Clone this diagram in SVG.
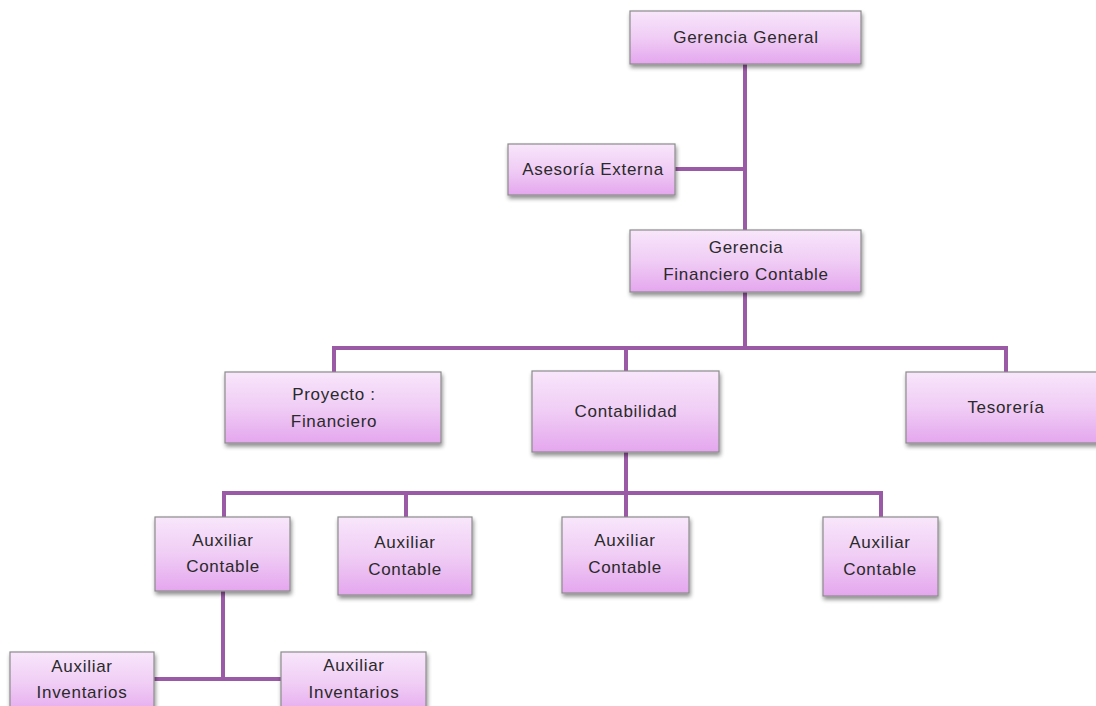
<svg xmlns="http://www.w3.org/2000/svg" width="1096" height="706" viewBox="0 0 1096 706">
  <defs>
    <linearGradient id="fill" x1="0" y1="0" x2="0" y2="1">
      <stop offset="0" stop-color="#f8e6fb"/>
      <stop offset="0.5" stop-color="#f0cdf5"/>
      <stop offset="1" stop-color="#e4a6ee"/>
    </linearGradient>
    <filter id="sh" x="-10%" y="-10%" width="125%" height="140%">
      <feGaussianBlur in="SourceAlpha" stdDeviation="2"/>
      <feOffset dx="1" dy="3" result="b"/>
      <feComponentTransfer><feFuncA type="linear" slope="0.45"/></feComponentTransfer>
      <feMerge><feMergeNode/><feMergeNode in="SourceGraphic"/></feMerge>
    </filter>
  </defs>
  <style>
    .box { fill: url(#fill); stroke: #8c8c8c; stroke-width: 1.2; filter: url(#sh); }
    .t { font-family: "Liberation Sans", Arial, sans-serif; font-size: 17px; letter-spacing: 0.7px; fill: #2a2a2a; text-anchor: middle; dominant-baseline: central; }
    .c { fill: none; stroke: #9b5aa6; stroke-width: 4; stroke-linejoin: miter; stroke-linecap: square; }
  </style>
  <rect width="1096" height="706" fill="#fff"/>
  <g id="connectors">
    <path class="c" d="M745 64 V348"/>
    <path class="c" d="M676 169 H745"/>
    <path class="c" d="M334 372 V348 H1006 V372"/>
    <path class="c" d="M626 348 V371"/>
    <path class="c" d="M626 452 V493"/>
    <path class="c" d="M224 517 V493 H881 V517"/>
    <path class="c" d="M406 493 V517"/>
    <path class="c" d="M626 493 V517"/>
    <path class="c" d="M223 591 V679"/>
    <path class="c" d="M155 679 H281"/>
  </g>
  <g id="gerencia-general">
    <rect class="box" x="630" y="11" width="231" height="53"/>
    <text class="t" x="746" y="37">Gerencia General</text>
  </g>
  <g id="asesoria-externa">
    <rect class="box" x="508" y="144" width="167" height="51"/>
    <text class="t" x="593" y="169">Asesoría Externa</text>
  </g>
  <g id="gerencia-financiero">
    <rect class="box" x="630" y="230" width="231" height="62"/>
    <text class="t" x="746" y="247">Gerencia</text>
    <text class="t" x="746" y="274">Financiero Contable</text>
  </g>
  <g id="proyecto-financiero">
    <rect class="box" x="225" y="372" width="216" height="71"/>
    <text class="t" x="334" y="394">Proyecto :</text>
    <text class="t" x="334" y="421">Financiero</text>
  </g>
  <g id="contabilidad">
    <rect class="box" x="532" y="371" width="187" height="81"/>
    <text class="t" x="626" y="411">Contabilidad</text>
  </g>
  <g id="tesoreria">
    <rect class="box" x="906" y="372" width="200" height="71"/>
    <text class="t" x="1006" y="407">Tesorería</text>
  </g>
  <g id="auxiliar-contable-1">
    <rect class="box" x="155" y="517" width="135" height="74"/>
    <text class="t" x="223" y="540">Auxiliar</text>
    <text class="t" x="223" y="566">Contable</text>
  </g>
  <g id="auxiliar-contable-2">
    <rect class="box" x="338" y="517" width="134" height="78"/>
    <text class="t" x="405" y="542">Auxiliar</text>
    <text class="t" x="405" y="569">Contable</text>
  </g>
  <g id="auxiliar-contable-3">
    <rect class="box" x="562" y="517" width="127" height="76"/>
    <text class="t" x="625" y="540">Auxiliar</text>
    <text class="t" x="625" y="567">Contable</text>
  </g>
  <g id="auxiliar-contable-4">
    <rect class="box" x="823" y="517" width="115" height="79"/>
    <text class="t" x="880" y="542">Auxiliar</text>
    <text class="t" x="880" y="569">Contable</text>
  </g>
  <g id="auxiliar-inventarios-1">
    <rect class="box" x="10" y="652" width="144" height="64"/>
    <text class="t" x="82" y="666">Auxiliar</text>
    <text class="t" x="82" y="692">Inventarios</text>
  </g>
  <g id="auxiliar-inventarios-2">
    <rect class="box" x="281" y="652" width="145" height="64"/>
    <text class="t" x="354" y="665">Auxiliar</text>
    <text class="t" x="354" y="692">Inventarios</text>
  </g>
</svg>
